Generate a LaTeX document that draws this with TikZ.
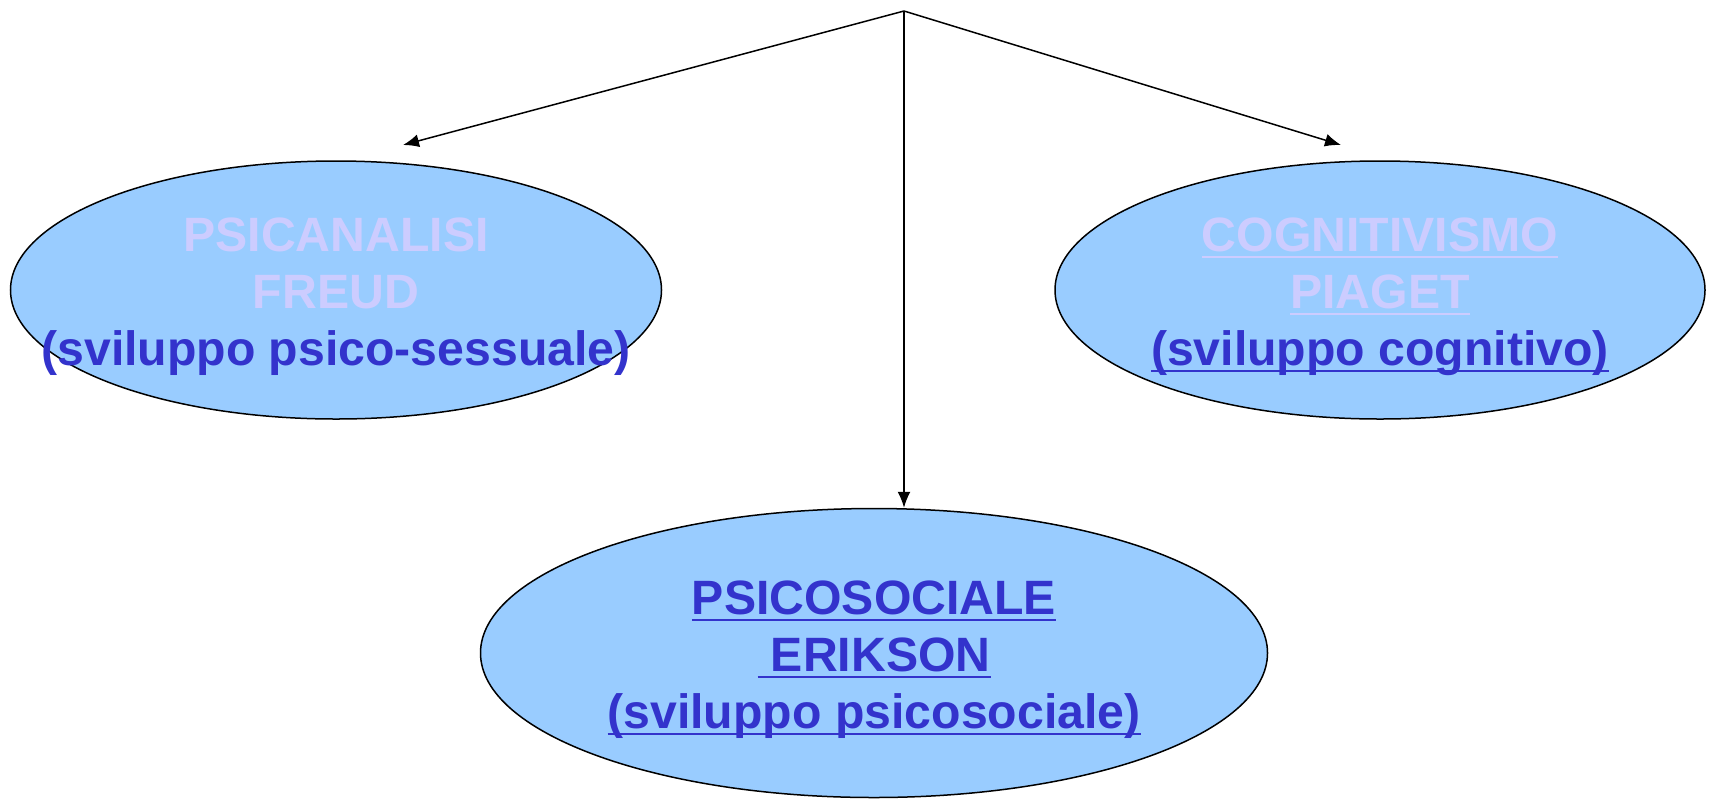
\documentclass[tikz,border=0pt]{standalone}
\usepackage{fontspec}
\setmainfont{Liberation Sans}
\usetikzlibrary{shapes.geometric,arrows.meta}

\definecolor{ovalblue}{HTML}{99CCFF}
\definecolor{palelilac}{HTML}{CCCCFF}
\definecolor{inkblue}{HTML}{3333CC}

% 下線 (ベースラインのすぐ下に引く)
\newcommand\ulined[1]{\leavevmode\setbox0\hbox{#1}\rlap{\rule[-0.13em]{\wd0}{0.05em}}\box0}

\tikzset{
    bubble/.style={ellipse, draw=black, line width=1.5pt, fill=ovalblue, inner sep=0pt},
    label text/.style={align=center, yshift=-7pt, font=\fontsize{48.2}{57}\selectfont\bfseries},
    branch/.style={line width=1.5pt, -{Latex[length=16pt,width=13pt]}}
}

\begin{document}
\begin{tikzpicture}[x=1pt,y=-1pt]
    % 画像の大きさを固定
    \useasboundingbox (0,0) rectangle (1710,801);

    % 楕円を定義
    \node[bubble, minimum width=651pt, minimum height=258pt] (freud) at (336,290) {};
    \node[bubble, minimum width=650pt, minimum height=258pt] (piaget) at (1380,290) {};
    \node[bubble, minimum width=787pt, minimum height=289pt] (erikson) at (874,653) {};

    % 楕円の中の文字
    \node[label text] (freudtext) at (freud) {%
        \textcolor{palelilac}{PSICANALISI}\\
        \textcolor{palelilac}{FREUD}\\
        \textcolor{inkblue}{(sviluppo psico-sessuale)}};
    \node[label text] (piagettext) at (piaget) {%
        \textcolor{palelilac}{\ulined{COGNITIVISMO}}\\
        \textcolor{palelilac}{\ulined{PIAGET}}\\
        \textcolor{inkblue}{\ulined{(sviluppo cognitivo)}}};
    \node[label text, text=inkblue] (eriksontext) at (erikson) {%
        \ulined{PSICOSOCIALE}\\
        \ulined{\ ERIKSON}\\
        \ulined{(sviluppo psicosociale)}};

    % 矢印の始点と終点
    \coordinate (top) at (904,11);
    \coordinate (lefttip) at (403,145);
    \coordinate (righttip) at (1341,145);

    % 矢印を描画
    \draw[branch] (top) -- (lefttip);
    \draw[branch] (top) -- (righttip);
    \draw[branch] (top) -- (top |- erikson.north);
\end{tikzpicture}
\end{document}
